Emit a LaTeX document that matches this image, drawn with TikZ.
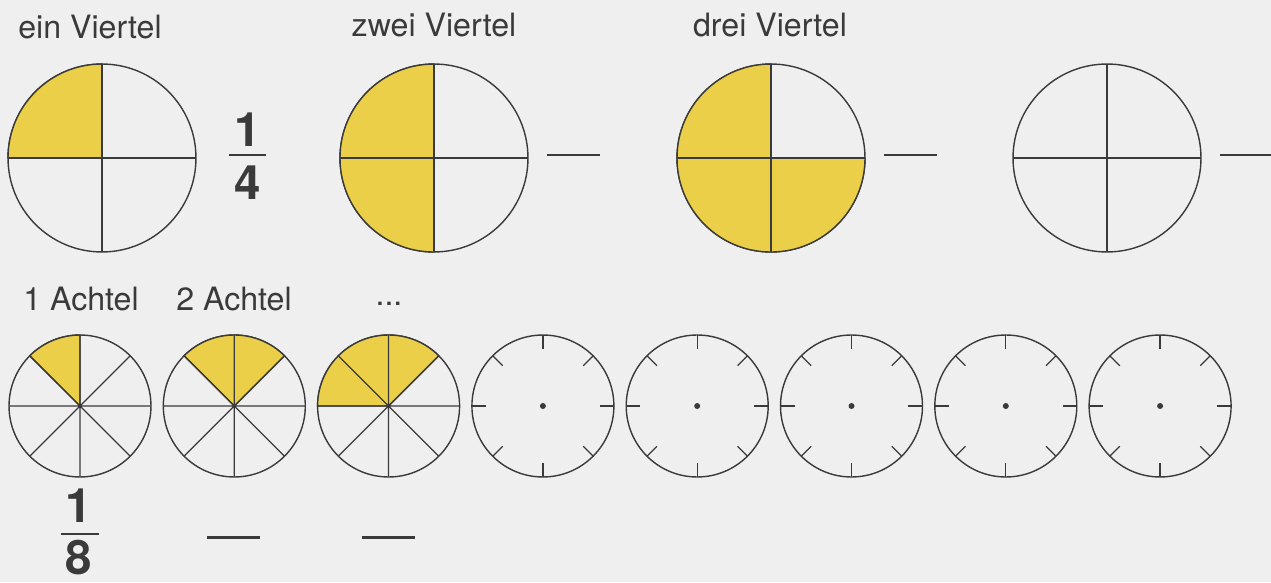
\documentclass[tikz,border=0pt]{standalone}
\usepackage{fontspec}
\setmainfont{TeX Gyre Heros}
\definecolor{ink}{HTML}{3A3A3A}
\definecolor{paper}{HTML}{EFEFEF}
\definecolor{gelb}{HTML}{EBCF48}
\tikzstyle{disc}=[circle,draw=ink,line width=0.8pt,fill=none,inner sep=0pt,outer sep=0pt,minimum size=3.76cm]
\tikzstyle{small disc}=[disc,minimum size=2.84cm]
\tikzstyle{part}=[fill=gelb,draw=ink,line width=0.8pt]
\tikzstyle{cut}=[draw=ink,line width=0.7pt]
\tikzstyle{bar}=[draw=ink,line width=1.1pt]
\tikzstyle{blank}=[draw=ink,line width=1.7pt]
\tikzstyle{word}=[text=ink,font=\fontsize{18.3}{22}\selectfont,inner sep=0pt,anchor=base]
\tikzstyle{digit}=[text=ink,font=\fontsize{27}{30}\selectfont\bfseries,inner sep=0pt,anchor=base]
\begin{document}
\begin{tikzpicture}[x=0.02cm,y=0.02cm]
                \fill[paper] (0,0) rectangle (1271,582);
                \useasboundingbox (0,0) rectangle (1271,582);
                % Viertel
                \path (102,424) node[disc] (A) {}
                    ++ (332,0) node[disc] (B) {}
                    ++ (337,0) node[disc] (C) {}
                    ++ (336,0) node[disc] (D) {}
                    ;
                \filldraw[part] (A.center) -- (A.north) arc[start angle=90,end angle=180,radius=94] -- cycle;
                \filldraw[part] (B.center) -- (B.north) arc[start angle=90,end angle=270,radius=94] -- cycle;
                \filldraw[part] (C.center) -- (C.north) arc[start angle=90,end angle=360,radius=94] -- cycle;
                \foreach \n in {A,B,C,D}
                    \draw[cut] (\n.north) -- (\n.south) (\n.west) -- (\n.east);
                \node[word] (LA) at (90,543) {ein Viertel};
                \node[word] (LB) at (434,545) {zwei Viertel};
                \node[word] (LC) at (770,545) {drei Viertel};
                \node[digit] (NA) at (248,435) {1};
                \node[digit] (DA) at (248,382) {4};
                \draw[bar] (A.east) ++(33,3) -- ++(37,0);
                \foreach \n in {B,C,D}
                    \draw[blank] (\n.east) ++(19,3) -- ++(53,0);
                % Achtel
                \path (80,176) node[small disc] (E) {}
                    ++ (154.3,0) node[small disc] (F) {}
                    ++ (154.3,0) node[small disc] (G) {}
                    ++ (154.3,0) node[small disc] (H) {}
                    ++ (154.3,0) node[small disc] (I) {}
                    ++ (154.3,0) node[small disc] (J) {}
                    ++ (154.3,0) node[small disc] (K) {}
                    ++ (154.3,0) node[small disc] (L) {}
                    ;
                \filldraw[part] (E.center) -- (E.90) arc[start angle=90,end angle=135,radius=71] -- cycle;
                \filldraw[part] (F.center) -- (F.45) arc[start angle=45,end angle=135,radius=71] -- cycle;
                \filldraw[part] (G.center) -- (G.45) arc[start angle=45,end angle=180,radius=71] -- cycle;
                \foreach \n in {E,F,G}
                    \draw[cut] (\n.north) -- (\n.south) (\n.west) -- (\n.east)
                        (\n.45) -- (\n.225) (\n.135) -- (\n.315);
                \foreach \n in {H,I,J,K,L} {
                    \fill[ink] (\n) circle (3);
                    \foreach \a in {0,45,...,315}
                        \draw[cut] (\n.\a) -- ++(\a+180:14);
                }
                \node[word] (LE) at (81,272) {1 Achtel};
                \node[word] (LF) at (234,272) {2 Achtel};
                \node[word] (LG) at (389,276) {...};
                \node[digit] (NE) at (79,60) {1};
                \node[digit] (DE) at (79,8) {8};
                \draw[bar] (E.south) ++(-19,-57) -- ++(38,0);
                \foreach \n in {F,G}
                    \draw[blank] (\n.south) ++(-27,-61) -- ++(53,0);
            \end{tikzpicture}
\end{document}
